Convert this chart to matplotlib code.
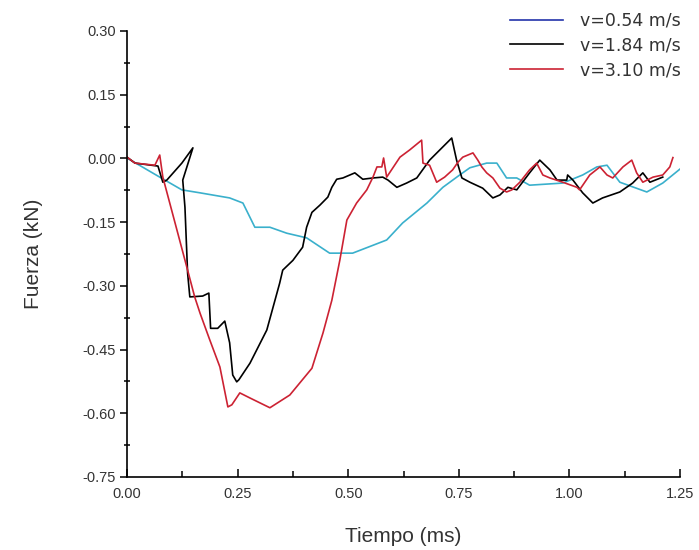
import matplotlib
matplotlib.use("Agg")
import matplotlib.pyplot as plt
from matplotlib.lines import Line2D
from matplotlib.ticker import MultipleLocator

# v = 0.54 m/s
t_054 = [0.000, 0.074, 0.124, 0.165, 0.232, 0.262, 0.289, 0.323, 0.361, 0.406, 0.458, 0.510,
         0.587, 0.623, 0.678, 0.714, 0.752, 0.775, 0.813, 0.836, 0.858, 0.881, 0.910, 0.985,
         1.030, 1.062, 1.085, 1.114, 1.175, 1.211, 1.250]
f_054 = [0.001, -0.044, -0.074, -0.081, -0.093, -0.105, -0.162, -0.162, -0.176, -0.187, -0.223, -0.223,
         -0.192, -0.152, -0.105, -0.068, -0.039, -0.022, -0.011, -0.011, -0.046, -0.046, -0.063, -0.058,
         -0.039, -0.020, -0.016, -0.056, -0.079, -0.058, -0.025]

# v = 1.84 m/s
t_184 = [0.000, 0.018, 0.070, 0.081, 0.090, 0.124, 0.149, 0.126, 0.131, 0.137, 0.142, 0.171,
         0.185, 0.189, 0.205, 0.221, 0.232, 0.239, 0.248, 0.253, 0.278, 0.316, 0.345, 0.352,
         0.375, 0.397, 0.406, 0.418, 0.436, 0.454, 0.463, 0.474, 0.488, 0.515, 0.533, 0.556,
         0.578, 0.590, 0.610, 0.632, 0.655, 0.684, 0.734, 0.745, 0.757, 0.775, 0.804, 0.827,
         0.843, 0.861, 0.881, 0.910, 0.933, 0.956, 0.972, 0.994, 0.996, 1.008, 1.030, 1.053,
         1.075, 1.114, 1.143, 1.166, 1.182, 1.211]
f_184 = [0.003, -0.011, -0.018, -0.056, -0.051, -0.011, 0.025, -0.051, -0.115, -0.270, -0.326, -0.324,
         -0.317, -0.400, -0.400, -0.383, -0.434, -0.510, -0.526, -0.521, -0.482, -0.404, -0.294, -0.263,
         -0.240, -0.209, -0.162, -0.127, -0.110, -0.091, -0.068, -0.049, -0.046, -0.034, -0.049, -0.046,
         -0.044, -0.051, -0.068, -0.058, -0.046, -0.004, 0.048, -0.004, -0.046, -0.056, -0.070, -0.093,
         -0.086, -0.068, -0.074, -0.034, -0.004, -0.027, -0.051, -0.051, -0.039, -0.051, -0.081, -0.105,
         -0.093, -0.079, -0.058, -0.034, -0.056, -0.044]

# v = 3.10 m/s
t_310 = [0.000, 0.018, 0.063, 0.074, 0.081, 0.113, 0.137, 0.153, 0.165, 0.187, 0.210, 0.228,
         0.237, 0.255, 0.278, 0.323, 0.368, 0.418, 0.443, 0.463, 0.481, 0.497, 0.519, 0.542,
         0.556, 0.565, 0.576, 0.580, 0.587, 0.617, 0.639, 0.666, 0.669, 0.684, 0.700, 0.718,
         0.736, 0.748, 0.759, 0.782, 0.793, 0.802, 0.813, 0.827, 0.843, 0.858, 0.870, 0.888,
         0.910, 0.926, 0.940, 0.956, 0.985, 1.017, 1.023, 1.046, 1.069, 1.085, 1.098, 1.121,
         1.141, 1.152, 1.166, 1.189, 1.211, 1.227, 1.234]
f_310 = [0.003, -0.011, -0.016, 0.008, -0.044, -0.169, -0.263, -0.326, -0.364, -0.427, -0.491, -0.585,
         -0.580, -0.552, -0.564, -0.587, -0.557, -0.494, -0.411, -0.334, -0.240, -0.145, -0.105, -0.074,
         -0.044, -0.020, -0.020, 0.001, -0.044, 0.003, 0.020, 0.043, -0.011, -0.016, -0.056, -0.044,
         -0.027, -0.009, 0.003, 0.013, -0.004, -0.020, -0.034, -0.046, -0.070, -0.079, -0.074, -0.056,
         -0.027, -0.011, -0.039, -0.046, -0.056, -0.068, -0.074, -0.039, -0.020, -0.039, -0.046, -0.020,
         -0.004, -0.034, -0.056, -0.044, -0.039, -0.020, 0.002]

labels = ["v=0.54 m/s", "v=1.84 m/s", "v=3.10 m/s"]
x_ticks = [0.00, 0.25, 0.50, 0.75, 1.00, 1.25]
y_ticks = [0.30, 0.15, 0.00, -0.15, -0.30, -0.45, -0.60, -0.75]

plt.rcParams['font.family'] = ['Liberation Sans', 'DejaVu Sans']

fig = plt.figure(figsize=(6.99, 5.50), dpi=100)
ax = fig.add_axes([127/699, 1 - 477/550, (680 - 127)/699, (477 - 31)/550])

c_cyan = "#3ab0cc"
c_red = "#cc2233"
ax.plot(t_054, f_054, color=c_cyan, lw=1.2)
ax.plot(t_184, f_184, color="black", lw=1.2)
ax.plot(t_310, f_310, color=c_red, lw=1.2)

ax.set_xlim(0, 1.25)
ax.set_ylim(-0.75, 0.30)
ax.set_xticks(x_ticks)
ax.set_yticks(y_ticks)
ax.set_xticklabels([f"{v:.2f}" for v in x_ticks])
ax.set_yticklabels([f"{v:.2f}" for v in y_ticks])
ax.xaxis.set_minor_locator(MultipleLocator(0.125))
ax.yaxis.set_minor_locator(MultipleLocator(0.075))

for s in ["top", "right"]:
    ax.spines[s].set_visible(False)
for s in ["left", "bottom"]:
    ax.spines[s].set_linewidth(1.2)

ax.tick_params(axis="y", which="major", direction="out", length=5, width=1.1,
               labelsize=10.5, labelcolor="#333333", pad=3)
ax.tick_params(axis="y", which="minor", direction="inout", length=5, width=1.1)
ax.tick_params(axis="x", which="major", direction="in", length=6, width=1.1,
               labelsize=10.5, labelcolor="#333333", pad=7)
ax.tick_params(axis="x", which="minor", direction="in", length=4, width=1.1)

ax.set_xlabel("Tiempo (ms)", fontsize=15, color="#333333", labelpad=19)
ax.set_ylabel("Fuerza (kN)", fontsize=15, color="#333333", labelpad=28)

handles = [Line2D([0], [0], color="#2233aa", lw=1.2),
           Line2D([0], [0], color="black", lw=1.2),
           Line2D([0], [0], color=c_red, lw=1.2)]
leg = ax.legend(handles, labels, loc="upper right", frameon=False,
                bbox_to_anchor=(688/699, 1 - 5/550), bbox_transform=fig.transFigure,
                prop={"family": "DejaVu Sans", "size": 12.5},
                handlelength=3.05, handletextpad=1.0, labelspacing=0.38, borderaxespad=0)
for t in leg.get_texts():
    t.set_color("#333333")

fig.savefig("out.png", dpi=100)
